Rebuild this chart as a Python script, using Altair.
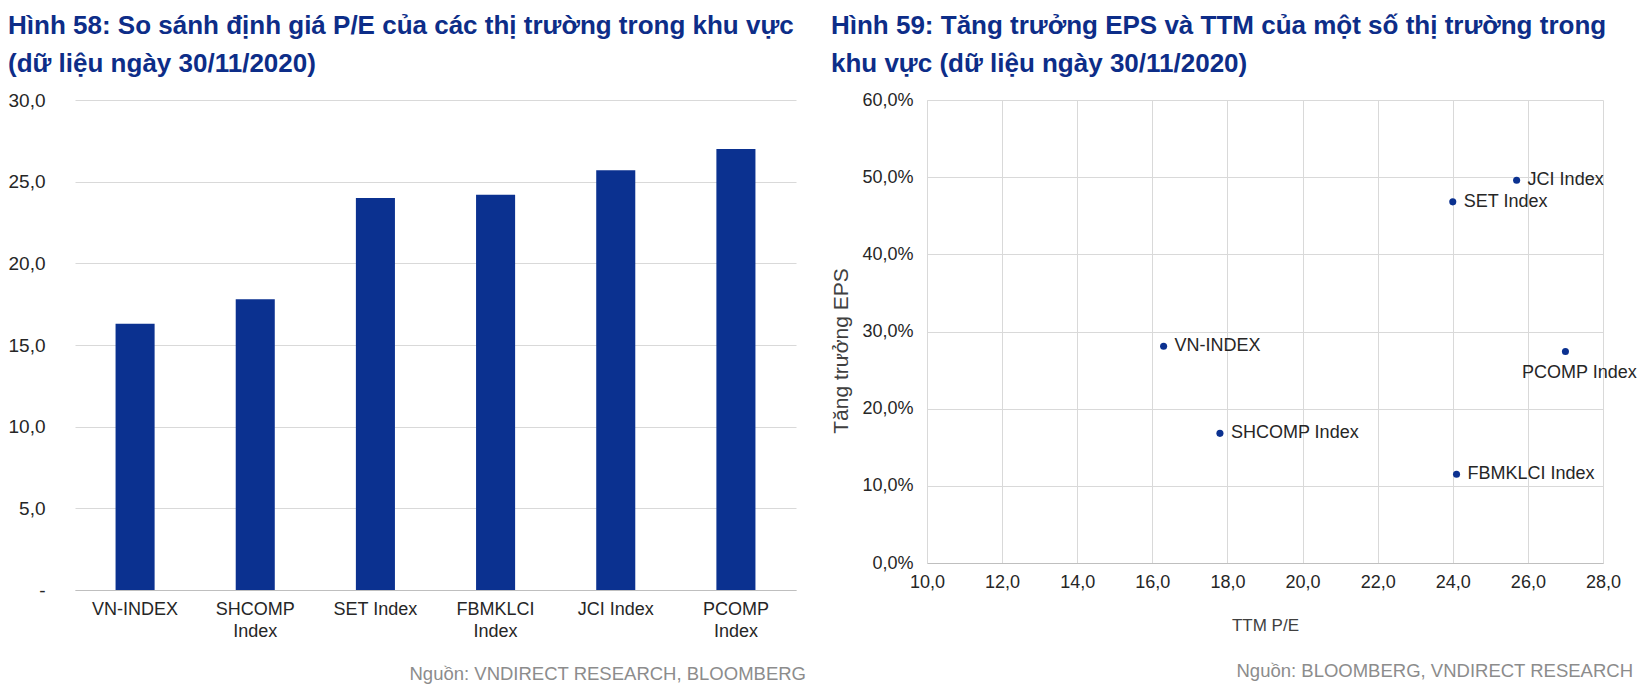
import pandas as pd
import altair as alt

# Data (30/11/2020)
markets = ["VN-INDEX", "SHCOMP Index", "SET Index", "FBMKLCI Index", "JCI Index", "PCOMP Index"]
pe_values = [16.3, 17.8, 24.0, 24.2, 25.7, 27.0]

scatter_names = ["VN-INDEX", "SHCOMP Index", "SET Index", "FBMKLCI Index", "JCI Index", "PCOMP Index"]
ttm_pe = [16.3, 17.8, 24.0, 24.1, 25.7, 27.0]
eps_growth = [0.281, 0.168, 0.468, 0.115, 0.496, 0.274]

title_left = ["Hình 58: So sánh định giá P/E của các thị trường trong khu vực",
              "(dữ liệu ngày 30/11/2020)"]
title_right = ["Hình 59: Tăng trưởng EPS và TTM của một số thị trường trong",
               "khu vực (dữ liệu ngày 30/11/2020)"]
source_left = "Nguồn: VNDIRECT RESEARCH, BLOOMBERG"
source_right = "Nguồn: BLOOMBERG, VNDIRECT RESEARCH"

NAVY = "#0b3190"
TITLE_C = "#0d2d88"
GRID = "#d9d9d9"
FONT = "Liberation Sans"


def panel_title(lines):
    return alt.TitleParams(text=lines, anchor="start", font=FONT, fontSize=26,
                           fontWeight="bold", color=TITLE_C, lineHeight=38, offset=14)


# ---- left: P/E bar chart
bar_df = pd.DataFrame({"market": markets, "pe": pe_values})
W1, H1 = 721, 490

bars = alt.Chart(bar_df).mark_bar(color=NAVY).encode(
    x=alt.X("market:N", sort=markets, title=None,
            scale=alt.Scale(paddingInner=0.675, paddingOuter=0.3375),
            axis=alt.Axis(labelAngle=0, ticks=False, domainColor="#bfbfbf",
                          labelFont=FONT, labelFontSize=18, labelColor="#262626",
                          labelPadding=10, labelLineHeight=22,
                          labelExpr="(datum.label == 'SET Index' || datum.label == 'JCI Index' || indexof(datum.label, ' ') < 0) ? datum.label : split(datum.label, ' ')")),
    y=alt.Y("pe:Q", title=None, scale=alt.Scale(domain=[0, 30]),
            axis=alt.Axis(values=[0, 5, 10, 15, 20, 25, 30], ticks=False, domain=False,
                          gridColor=GRID, labelFont=FONT, labelFontSize=19,
                          labelColor="#262626", labelPadding=30, labelFlush=False,
                          labelExpr="datum.value == 0 ? '-\u00a0\u00a0\u00a0\u00a0' : replace(format(datum.value, '.1f'), '.', ',')")),
)

src1 = alt.Chart(pd.DataFrame({"t": [source_left]})).mark_text(
    align="right", baseline="middle", font=FONT, fontSize=18.5, color="#8c8c8c"
).encode(text="t:N", x=alt.value(W1 + 10), y=alt.value(H1 + 84))

left = (bars + src1).properties(width=W1, height=H1, title=panel_title(title_left))

# ---- right: EPS growth vs TTM P/E scatter
sc_df = pd.DataFrame({"name": scatter_names, "pe": ttm_pe, "eps": eps_growth})
W2, H2 = 676, 463

base = alt.Chart(sc_df).encode(
    x=alt.X("pe:Q", title="TTM P/E", scale=alt.Scale(domain=[10, 28], nice=False),
            axis=alt.Axis(values=list(range(10, 29, 2)), ticks=False, domainColor="#bfbfbf",
                          gridColor=GRID, labelFont=FONT, labelFontSize=18,
                          labelColor="#262626", labelPadding=10, labelFlush=False,
                          titleFont=FONT, titleFontSize=17, titleFontWeight="normal",
                          titleColor="#404040", titlePadding=26,
                          labelExpr="replace(format(datum.value, '.1f'), '.', ',')")),
    y=alt.Y("eps:Q", title="Tăng trưởng EPS", scale=alt.Scale(domain=[0, 0.6], nice=False),
            axis=alt.Axis(values=[0, 0.1, 0.2, 0.3, 0.4, 0.5, 0.6], ticks=False,
                          domainColor=GRID, gridColor=GRID, labelFont=FONT,
                          labelFontSize=18, labelColor="#262626", labelPadding=14,
                          labelFlush=False,
                          titleFont=FONT, titleFontSize=21, titleFontWeight="normal",
                          titleColor="#404040", titlePadding=10, titleY=H2 / 2 + 19,
                          labelExpr="replace(format(datum.value, '.1%'), '.', ',')")),
)

dots = base.mark_circle(size=50, color=NAVY, opacity=1)
lab_right = base.transform_filter(alt.datum.name != "PCOMP Index").mark_text(
    align="left", baseline="middle", dx=11, font=FONT, fontSize=18, color="#262626"
).encode(text="name:N")
lab_below = base.transform_filter(alt.datum.name == "PCOMP Index").mark_text(
    align="center", baseline="middle", dx=14, dy=21, font=FONT, fontSize=18, color="#262626"
).encode(text="name:N")

src2 = alt.Chart(pd.DataFrame({"t": [source_right]})).mark_text(
    align="right", baseline="middle", font=FONT, fontSize=18.5, color="#8c8c8c"
).encode(text="t:N", x=alt.value(W2 + 30), y=alt.value(H2 + 108))

right = (dots + lab_right + lab_below + src2).properties(
    width=W2, height=H2, title=panel_title(title_right))

chart = alt.hconcat(left, right, spacing=24).configure_view(stroke=None).properties(
    padding={"left": 0, "top": 5, "right": 0, "bottom": 0}, background="white")

chart.save("out.html", embed_options={"renderer": "svg", "actions": False})
